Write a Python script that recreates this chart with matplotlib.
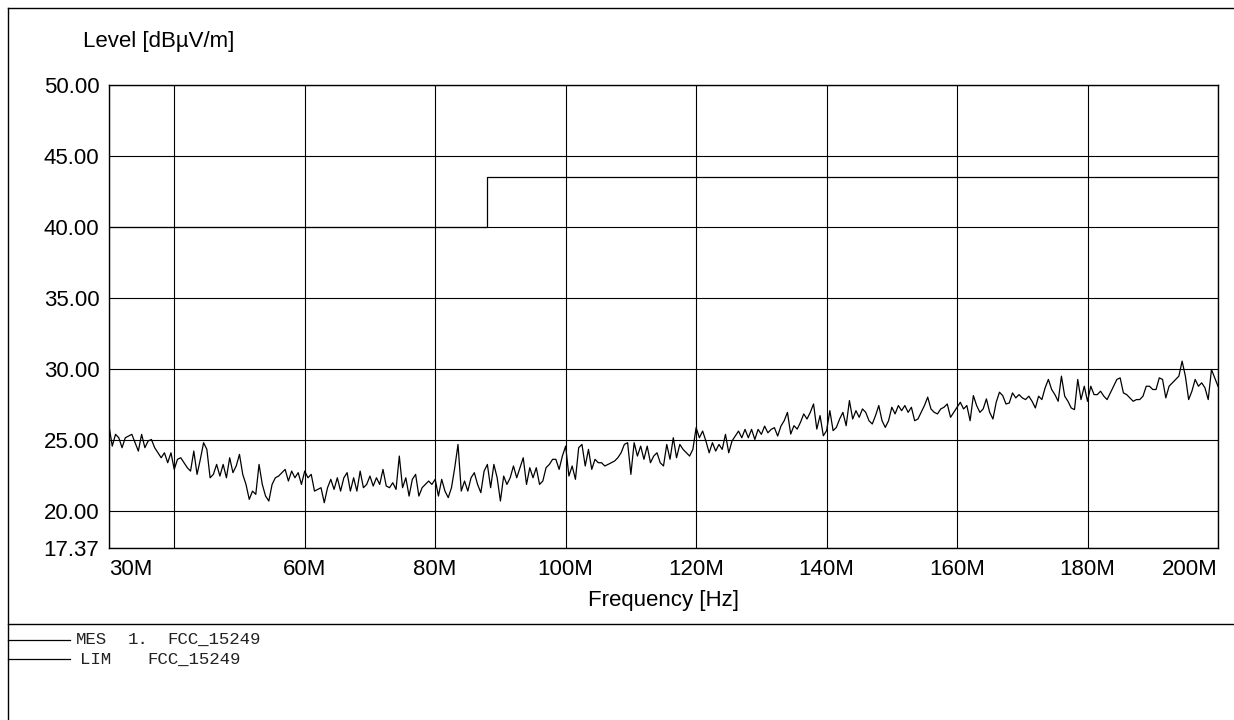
import numpy as np
import matplotlib.pyplot as plt
from matplotlib.lines import Line2D

plt.rcParams['font.family'] = ['Liberation Sans', 'DejaVu Sans']

# measured trace (dBuV/m), sweep in 0.5 MHz steps from 30 MHz to 200 MHz
mes_30_64 = [25.96, 24.55, 25.38, 25.14, 24.44, 25.14, 25.26, 25.38, 24.79, 24.20,
             25.38, 24.44, 24.91, 25.02, 24.44, 24.08, 23.73, 24.08, 23.38, 24.08,
             22.91, 23.62, 23.73, 23.38, 23.03, 22.79, 24.20, 22.56, 23.62, 24.79,
             24.32, 22.32, 22.56, 23.26, 22.44, 23.26, 22.32, 23.73, 22.68, 23.15,
             23.97, 22.56, 21.85, 20.80, 21.38, 21.15, 23.26, 21.85, 21.03, 20.68,
             21.85, 22.32, 22.44, 22.68, 22.91, 22.09, 22.79, 22.32, 22.68, 21.85,
             22.79, 22.32, 22.56, 21.38, 21.50, 21.62, 20.56, 21.62]
mes_64_98 = [22.21, 21.50, 22.32, 21.38, 22.32, 22.68, 21.38, 22.32, 21.38, 22.79,
             21.62, 21.85, 22.44, 21.74, 22.32, 21.85, 22.91, 21.74, 21.62, 21.97,
             21.50, 23.85, 21.62, 22.32, 21.03, 22.21, 22.56, 21.03, 21.62, 21.85,
             22.09, 21.85, 22.21, 21.03, 22.21, 21.38, 20.92, 21.62, 23.03, 24.67,
             21.38, 22.09, 21.38, 22.32, 22.68, 21.85, 21.27, 22.79, 23.26, 21.62,
             23.26, 22.32, 20.68, 22.44, 21.85, 22.32, 23.15, 22.32, 23.03, 23.73,
             21.85, 23.03, 22.32, 23.03, 21.85, 22.09, 23.03, 23.26, 23.62]
mes_98_133 = [23.62, 22.91, 23.85, 24.55, 22.44, 23.15, 22.21, 24.44, 24.67, 23.15,
              24.32, 22.91, 23.62, 23.38, 23.38, 23.15, 23.26, 23.38, 23.50, 23.73,
              24.08, 24.67, 24.79, 22.56, 24.79, 23.85, 24.55, 23.62, 24.55, 23.38,
              23.85, 24.08, 23.38, 23.15, 24.67, 23.62, 25.14, 23.73, 24.67, 24.32,
              24.08, 23.85, 24.32, 25.85, 25.14, 25.61, 24.91, 24.08, 24.79, 24.20,
              24.67, 24.32, 25.38, 24.08, 24.91, 25.26, 25.61, 25.14, 25.73, 25.14,
              25.73, 25.02, 25.73, 25.38, 25.96, 25.49, 25.73, 25.85, 25.26, 25.96]
mes_133_168 = [26.34, 26.93, 25.40, 25.99, 25.75, 26.23, 26.82, 26.46, 26.93, 27.52,
               25.75, 26.70, 25.28, 25.64, 27.05, 25.64, 25.87, 26.46, 26.93, 25.99,
               27.76, 26.46, 27.05, 26.58, 27.17, 26.93, 26.34, 26.11, 26.70, 27.41,
               26.34, 25.87, 26.34, 27.29, 26.82, 27.41, 27.05, 27.41, 26.93, 27.29,
               26.34, 26.46, 26.93, 27.41, 28.00, 27.17, 26.93, 26.82, 27.17, 27.29,
               27.52, 26.58, 26.93, 27.29, 27.64, 27.17, 27.41, 26.34, 28.11, 27.41,
               26.93, 27.17, 27.88, 26.93, 26.46, 27.64, 28.35, 28.11, 27.52]
mes_168_200 = [27.59, 28.30, 27.95, 28.18, 27.95, 27.83, 28.07, 27.71, 27.24, 28.07,
               27.83, 28.66, 29.25, 28.54, 28.18, 27.71, 29.48, 28.07, 27.71, 27.24,
               27.12, 29.25, 27.83, 28.77, 27.71, 28.77, 28.18, 28.18, 28.42, 28.07,
               27.83, 28.30, 28.77, 29.25, 29.36, 28.30, 28.18, 27.95, 27.71, 27.83,
               27.83, 28.07, 28.77, 28.77, 28.54, 28.54, 29.36, 29.25, 27.95, 28.77,
               29.01, 29.25, 29.48, 30.54, 29.48, 27.83, 28.42, 29.25, 28.77, 29.01,
               28.66, 27.83, 29.95, 29.36, 28.77]

mes_level = mes_30_64 + mes_64_98 + mes_98_133 + mes_133_168 + mes_168_200
mes_freq = np.linspace(30, 200, len(mes_level))

# FCC 15.249 limit
lim_freq = [30, 88, 88, 200]
lim_level = [40, 40, 43.5, 43.5]

x_ticks = [30, 40, 60, 80, 100, 120, 140, 160, 180, 200]
x_labels = ['30M', '', '60M', '80M', '100M', '120M', '140M', '160M', '180M', '200M']
y_ticks = [17.37, 20, 25, 30, 35, 40, 45, 50]

W, H = 1234, 720
fig = plt.figure(figsize=(W / 100, H / 100), dpi=100)
ax = fig.add_axes([109 / W, 1 - 548 / H, (1218 - 109) / W, (548 - 85) / H])

ax.plot(mes_freq, mes_level, color='black', lw=0.9)
ax.plot(lim_freq, lim_level, color='black', lw=0.9)

ax.set_xlim(30, 200)
ax.set_ylim(17.37, 50)
ax.set_xticks(x_ticks)
ax.set_xticklabels(x_labels, fontsize=16)
xl = ax.get_xticklabels()
xl[0].set_horizontalalignment('left')
xl[-1].set_horizontalalignment('right')
ax.set_yticks(y_ticks)
ax.set_yticklabels(['%.2f' % v for v in y_ticks], fontsize=16)
ax.tick_params(length=0)
ax.tick_params(axis='x', pad=8)
ax.tick_params(axis='y', pad=7)
ax.grid(True, color='black', lw=0.8)
for s in ax.spines.values():
    s.set_linewidth(1.0)

ax.set_xlabel('Frequency [Hz]', fontsize=16, labelpad=7)
fig.text(83 / W, 1 - 42 / H, 'Level [dBµV/m]', fontsize=16, va='center', ha='left')

# page frame and legend block
fig.add_artist(Line2D([8 / W, 1], [1 - 8 / H] * 2, color='black', lw=1))
fig.add_artist(Line2D([8 / W] * 2, [0, 1 - 8 / H], color='black', lw=1))
fig.add_artist(Line2D([8 / W, 1], [1 - 624 / H] * 2, color='black', lw=1))

mono = dict(family='Liberation Mono', fontsize=12.5, va='center', ha='left', color='#222222')
fig.add_artist(Line2D([8 / W, 70 / W], [1 - 640 / H] * 2, color='black', lw=0.9))
fig.add_artist(Line2D([8 / W, 70 / W], [1 - 659 / H] * 2, color='black', lw=0.9))
fig.text(76 / W, 1 - 639 / H, 'MES', **mono)
fig.text(128 / W, 1 - 639 / H, '1.', **mono)
fig.text(167 / W, 1 - 639 / H, 'FCC_15249', **mono)
fig.text(80 / W, 1 - 659 / H, 'LIM', **mono)
fig.text(147 / W, 1 - 659 / H, 'FCC_15249', **mono)

fig.savefig('out.png', dpi=100)
